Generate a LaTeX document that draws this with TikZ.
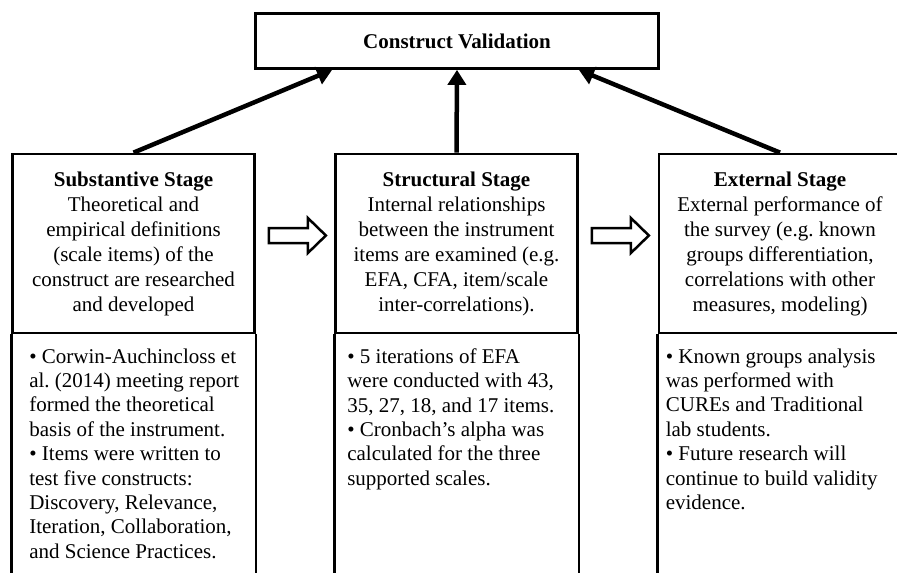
\documentclass[tikz,border=0pt]{standalone}
\usepackage{fontspec}
\setmainfont{Liberation Serif}
\usetikzlibrary{arrows.meta,positioning}
\frenchspacing

\begin{document}
\begin{tikzpicture}[x=1pt,y=-1pt]
\tikzset{
  titlebox/.style={draw,line width=2.75pt,minimum width=403pt,minimum height=55pt,font=\fontsize{21}{25}\selectfont\bfseries},
  stagebox/.style={draw,line width=2.75pt,minimum width=242pt,minimum height=179pt,align=center,inner sep=0pt,font=\fontsize{21}{25}\selectfont},
  detailtext/.style={align=left,inner sep=0pt,font=\fontsize{21}{24.4}\selectfont},
  sideline/.style={line width=2.75pt},
  feeds/.style={-{Triangle[length=15pt,width=18pt]},line width=4.5pt},
  nextstage/.style={line width=2.5pt,line join=miter}
}
\useasboundingbox (0,0) rectangle (897,573);
\clip (0,0) rectangle (897,573);

\node[titlebox] (cv) at (457,41) {Construct Validation};

\node[stagebox] (sub) at (133.5,243.5) {\textbf{Substantive Stage}\\Theoretical and\\empirical definitions\\(scale items) of the\\construct are researched\\and developed};
\node[stagebox] (str) at (456.5,243.5) {\textbf{Structural Stage}\\Internal relationships\\between the instrument\\items are examined (e.g.\\EFA, CFA, item/scale\\inter-correlations).};
\node[stagebox] (ext) at (780,243.5) {\textbf{External Stage}\\External performance of\\the survey (e.g. known\\groups differentiation,\\correlations with other\\measures, modeling)};

% lower parts of the stage columns
\draw[sideline] (sub.south west) -- ++(0,260);
\draw[sideline] (sub.south east) -- ++(0,260);
\draw[sideline] (str.south west) -- ++(0,260);
\draw[sideline] (str.south east) -- ++(0,260);
\draw[sideline] (ext.south west) -- ++(0,260);
\draw[sideline] (ext.south east) -- ++(0,260);

\node[detailtext,below right=14pt and 18pt of sub.south west] (sub_d) {• Corwin-Auchincloss et\\al. (2014) meeting report\\formed the theoretical\\basis of the instrument.\\• Items were written to\\test five constructs:\\Discovery, Relevance,\\Iteration, Collaboration,\\and Science Practices.};
\node[detailtext,below right=14pt and 13pt of str.south west] (str_d) {• 5 iterations of EFA\\were conducted with 43,\\35, 27, 18, and 17 items.\\• Cronbach’s alpha was\\calculated for the three\\supported scales.};
\node[detailtext,below right=14pt and 8pt of ext.south west] (ext_d) {• Known groups analysis\\was performed with\\CUREs and Traditional\\lab students.\\• Future research will\\continue to build validity\\evidence.};

% arrows up to the title box
\draw[feeds] (sub.north) -- ([xshift=78pt]cv.south west);
\draw[feeds] (str.north) -- (cv.south);
\draw[feeds] (ext.north) -- ([xshift=-81pt]cv.south east);

% hollow arrows between stages
\coordinate (a1) at ([xshift=13pt,yshift=8pt]sub.east);
\coordinate (a2) at ([xshift=13pt,yshift=8pt]str.east);
\draw[nextstage] (a1) ++(0,-7.5) -- ++(39,0) -- ++(0,-10) -- ++(18,17.5) -- ++(-18,17.5) -- ++(0,-10) -- ++(-39,0) -- cycle;
\draw[nextstage] (a2) ++(0,-7.5) -- ++(39,0) -- ++(0,-10) -- ++(18,17.5) -- ++(-18,17.5) -- ++(0,-10) -- ++(-39,0) -- cycle;
\end{tikzpicture}
\end{document}
